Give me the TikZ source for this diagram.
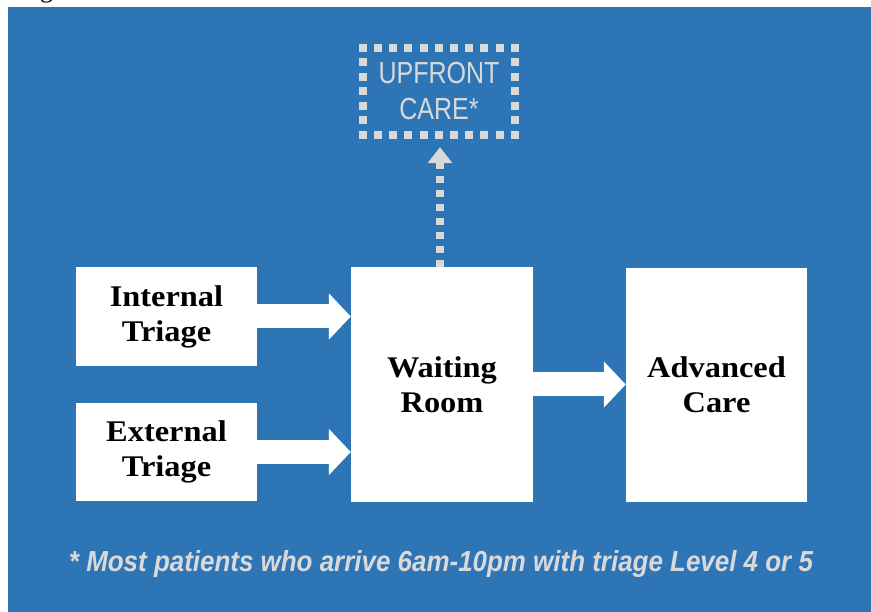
\documentclass[tikz,border=0pt]{standalone}
\usepackage{fontspec}
\usetikzlibrary{arrows.meta,calc}
\setmainfont{Liberation Serif}
\newfontfamily\boxfont[FakeStretch=1.08]{Liberation Serif}
\newfontfamily\narrowsans[FakeStretch=0.82]{Liberation Sans}
\newfontfamily\notefont{Liberation Sans}
\definecolor{panel}{HTML}{2E75B6}
\definecolor{pale}{HTML}{D9D9D9}

\tikzset{
  stage/.style={fill=white, inner sep=0pt, align=center, text=black,
    font=\boxfont\bfseries\fontsize{30}{35}\selectfont},
  blockarrow/.style={white, line width=24pt,
    -{Triangle[width=45pt,length=22pt]}},
  dotline/.style={pale, line width=8pt, -{Triangle[width=24pt,length=16pt]},
    dash pattern=on 7pt off 7pt},
  frameh/.style={pale, line width=8pt, dash pattern=on 8pt off 7.2pt},
  framev/.style={pale, line width=8pt, dash pattern=on 8pt off 6.5pt},
  upbox/.style={inner sep=0pt, minimum width=152pt, minimum height=87pt,
    align=center, text=pale, font=\narrowsans\fontsize{30.5}{36}\selectfont},
  note/.style={inner sep=0pt, text=pale,
    font=\notefont\bfseries\itshape\fontsize{29}{29}\selectfont}
}

\begin{document}
\begin{tikzpicture}[x=1pt,y=-1pt]
\useasboundingbox (0,0) rectangle (871,612);

% descender of the caption line above the panel
\begin{scope}
  \clip (0,0) rectangle (871,7);
  \node[anchor=base, inner sep=0pt, font=\fontsize{26}{26}\selectfont] (frag) at (46.5,-2.5) {g};
\end{scope}

% blue panel
\fill[panel] (8,7) rectangle (871,612);

% stages
\node[stage, minimum width=181pt, minimum height=99pt] (it) at (166.5,316.5) {Internal\\Triage};
\node[stage, minimum width=181pt, minimum height=98pt] (et) at (166.5,452) {External\\Triage};
\node[stage, minimum width=182pt, minimum height=235pt] (wr) at (442,384.5) {Waiting\\Room};
\node[stage, minimum width=181pt, minimum height=234pt] (ac) at (716.5,385) {Advanced\\Care};

% optional upfront care
\node[upbox] (up) at (439,91.5) {UPFRONT\\CARE*};
\draw[frameh] ($(up.north west)+(-4,0)$) -- ($(up.north east)+(4,0)$);
\draw[frameh] ($(up.south west)+(-4,0)$) -- ($(up.south east)+(4,0)$);
\draw[framev] ($(up.north west)+(0,-4)$) -- ($(up.south west)+(0,4)$);
\draw[framev] ($(up.north east)+(0,-4)$) -- ($(up.south east)+(0,4)$);

% flows
\draw[blockarrow] (it.east) -- (wr.west |- it.east);
\draw[blockarrow] (et.east) -- (wr.west |- et.east);
\draw[blockarrow] (wr.east) -- (ac.west |- wr.east);
\draw[dotline] ($(wr.north -| up.south)+(1,0)$) -- ($(up.south)+(1,12)$);

% footnote
\node[note, anchor=base] (fn) at (441,571.7)
  {\resizebox{744pt}{\height}{* Most patients who arrive 6am-10pm with triage Level 4 or 5}};
\end{tikzpicture}
\end{document}
